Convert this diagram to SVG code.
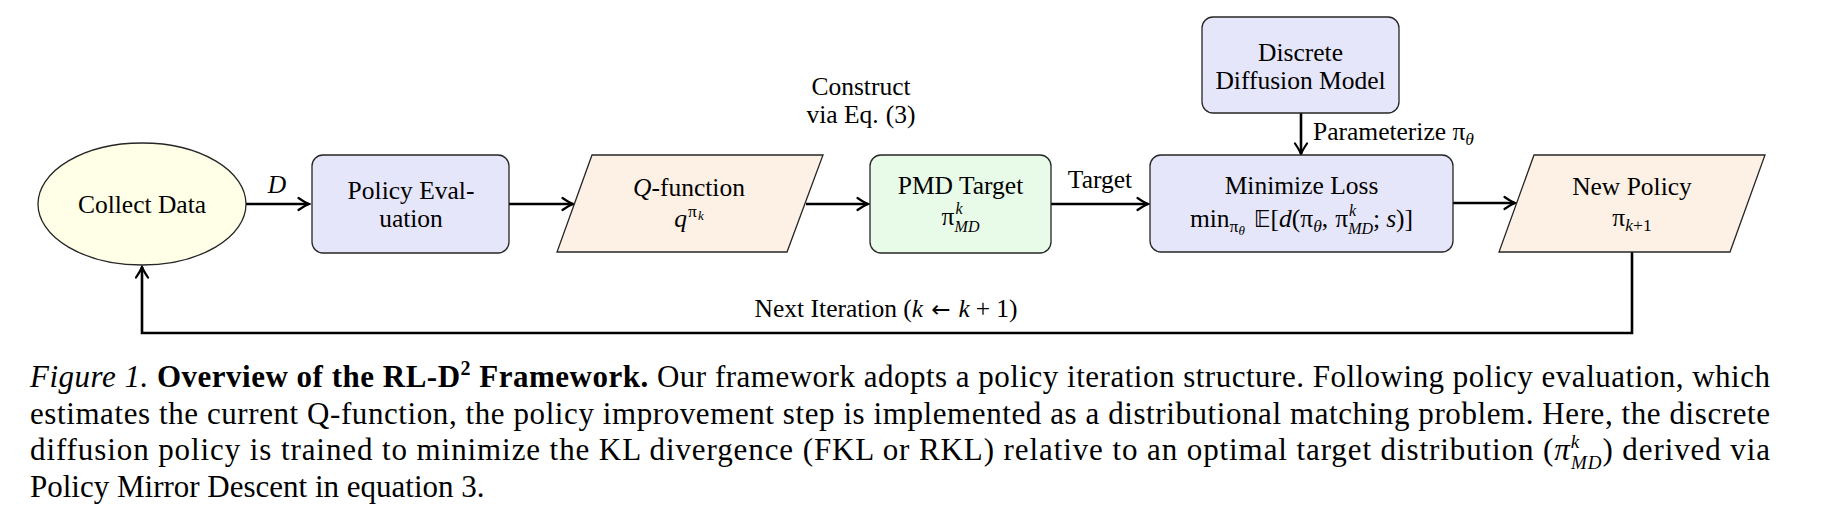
<svg xmlns="http://www.w3.org/2000/svg" width="1832" height="532" viewBox="0 0 1832 532">
<style>
.t{font-family:"Liberation Serif","Times New Roman",serif;font-size:25.5px;fill:#000}
.c{font-family:"Liberation Serif","Times New Roman",serif;font-size:31px;fill:#000}
.i{font-style:italic}
.s{font-size:17.5px}
.sk{font-size:16px}
.ss{font-size:13px}
.dj{font-family:"DejaVu Sans",sans-serif}
.node{stroke:#262626;stroke-width:1.3}
.yel{fill:#FFFFE7}
.blu{fill:#E6E6FA}
.org{fill:#FDF1E6}
.grn{fill:#E8FBE8}
.con{fill:none;stroke:#000;stroke-width:2.6}
</style>
<defs>
<marker id="ah" markerUnits="userSpaceOnUse" viewBox="-13 -8 15 16" refX="0" refY="0" markerWidth="15" markerHeight="16" orient="auto">
<path d="M-10.5,-6 Q-4,-1.6 0,0 Q-4,1.6 -10.5,6" fill="none" stroke="#000" stroke-width="2.2" stroke-linecap="round"/>
</marker>
</defs>
<rect width="1832" height="532" fill="#fff"/>

<g id="connectors">
<path class="con" d="M246,204 H309" marker-end="url(#ah)"/>
<path class="con" d="M509,204 H573" marker-end="url(#ah)"/>
<path class="con" d="M806,204 H868" marker-end="url(#ah)"/>
<path class="con" d="M1051,204 H1148" marker-end="url(#ah)"/>
<path class="con" d="M1301,113 V154" marker-end="url(#ah)"/>
<path class="con" d="M1453,203 H1515" marker-end="url(#ah)"/>
<path class="con" d="M1632,252 V333 H142 V267" marker-end="url(#ah)"/>
<text class="t i" x="277" y="193" text-anchor="middle">D</text>
<text class="t" x="861" y="95" text-anchor="middle">Construct</text>
<text class="t" x="861" y="123" text-anchor="middle">via Eq.<tspan dx="7">(3)</tspan></text>
<text class="t" x="1100" y="188" text-anchor="middle">Target</text>
<text class="t" x="1313" y="140">Parameterize π<tspan class="s i" dy="5">θ</tspan></text>
<text class="t" x="886" y="317" text-anchor="middle">Next Iteration (<tspan class="i">k</tspan><tspan class="dj" dx="8" font-size="23">←</tspan><tspan class="i" dx="8">k</tspan><tspan dx="6">+</tspan><tspan dx="6">1)</tspan></text>
</g>

<g id="collect-data">
<ellipse class="node yel" cx="142" cy="204" rx="104" ry="61"/>
<text class="t" x="142" y="213" text-anchor="middle">Collect Data</text>
</g>

<g id="policy-evaluation">
<rect class="node blu" x="312" y="155" width="197" height="98" rx="11"/>
<text class="t" x="411" y="199" text-anchor="middle">Policy Eval-</text>
<text class="t" x="411" y="227" text-anchor="middle">uation</text>
</g>

<g id="q-function">
<polygon class="node org" points="592,155 823,155 787,252 557,252"/>
<text class="t" x="689" y="196" text-anchor="middle"><tspan class="i">Q</tspan>-function</text>
<text class="t" x="689" y="227" text-anchor="middle"><tspan class="i">q</tspan><tspan class="s" dx="1" dy="-10">π</tspan><tspan class="ss i" dx="1" dy="3">k</tspan></text>
</g>

<g id="pmd-target">
<rect class="node grn" x="870" y="155" width="181" height="98" rx="11"/>
<text class="t" x="960.5" y="194" text-anchor="middle">PMD Target</text>
<text class="t" x="960.5" y="225" text-anchor="middle">π<tspan class="sk i" dx="1" dy="-11">k</tspan><tspan class="sk i" dx="-8" dy="18">MD</tspan></text>
</g>

<g id="discrete-diffusion-model">
<rect class="node blu" x="1202" y="17" width="197" height="96" rx="11"/>
<text class="t" x="1300.5" y="61" text-anchor="middle">Discrete</text>
<text class="t" x="1300.5" y="89" text-anchor="middle">Diffusion Model</text>
</g>

<g id="minimize-loss">
<rect class="node blu" x="1150" y="155" width="303" height="97" rx="11"/>
<text class="t" x="1301.5" y="194" text-anchor="middle">Minimize Loss</text>
<text class="t" x="1301.5" y="227" text-anchor="middle">min<tspan class="s" dy="5">π</tspan><tspan class="ss i" dy="3">θ</tspan><tspan dy="-8" dx="9" class="dj" font-size="23">𝔼</tspan><tspan>[</tspan><tspan class="i">d</tspan><tspan>(π</tspan><tspan class="s i" dy="5">θ</tspan><tspan dy="-5">,</tspan><tspan dx="7">π</tspan><tspan class="sk i" dx="1" dy="-11">k</tspan><tspan class="sk i" dx="-8" dy="18">MD</tspan><tspan dy="-7">;</tspan><tspan class="i" dx="6">s</tspan><tspan>)]</tspan></text>
</g>

<g id="new-policy">
<polygon class="node org" points="1534,155 1765,155 1730,252 1499,252"/>
<text class="t" x="1632" y="195" text-anchor="middle">New Policy</text>
<text class="t" x="1632" y="226" text-anchor="middle">π<tspan class="s" dy="5"><tspan class="i">k</tspan>+1</tspan></text>
</g>

<g id="caption">
<text class="c" x="30" y="387" textLength="1740" lengthAdjust="spacing"><tspan class="i">Figure 1.</tspan> <tspan font-weight="bold">Overview of the RL-D<tspan font-size="20" dy="-12">2</tspan><tspan dy="12"> Framework.</tspan></tspan> Our framework adopts a policy iteration structure. Following policy evaluation, which</text>
<text class="c" x="30" y="423.5" textLength="1740" lengthAdjust="spacing">estimates the current Q-function, the policy improvement step is implemented as a distributional matching problem. Here, the discrete</text>
<text class="c" x="30" y="460" textLength="1740" lengthAdjust="spacing">diffusion policy is trained to minimize the KL divergence (FKL or RKL) relative to an optimal target distribution (<tspan class="i">π</tspan><tspan class="i" font-size="19" dy="-12.5">k</tspan><tspan class="i" font-size="19" dx="-9" dy="21.5">MD</tspan><tspan dy="-9">) derived via</tspan></text>
<text class="c" x="30" y="496.5">Policy Mirror Descent in equation 3.</text>
</g>
</svg>
